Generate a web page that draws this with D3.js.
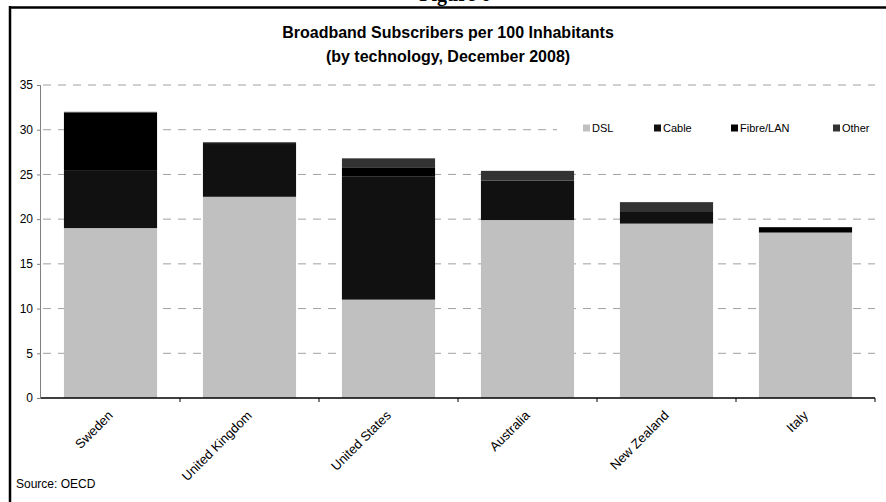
<!DOCTYPE html>
<html><head><meta charset="utf-8">
<script src="https://cdn.jsdelivr.net/npm/d3@7"></script>
<style>body{margin:0;background:#fff}svg{display:block;font-family:"Liberation Sans",Arial,sans-serif}</style>
</head><body><svg id="c" width="886" height="502"></svg>
<script>
const countries = ["Sweden","United Kingdom","United States","Australia","New Zealand","Italy"];
const seriesNames = ["DSL","Cable","Fibre/LAN","Other"];
const dsl   = [19.0, 22.5, 11.0, 19.9, 19.5, 18.5];
const cable = [6.4, 5.9, 13.8, 4.4, 1.3, 0.0];
const fibre = [6.5, 0.1, 1.0, 0.0, 0.0, 0.6];
const other = [0.1, 0.1, 1.0, 1.1, 1.1, 0.0];
const yTicks = [0,5,10,15,20,25,30,35];
const colors = ["#c0c0c0","#111111","#000000","#333333"];

const svg = d3.select("#c");
const L = 41, R = 875, T = 85, B = 398;
const x = d3.scaleBand().domain(countries).range([L,R]).paddingInner(0.33).paddingOuter(0.165);
const y = d3.scaleLinear().domain([0,35]).range([B,T]);

// frame
svg.append("line").attr("x1",9).attr("x2",886).attr("y1",7.5).attr("y2",7.5).attr("stroke","#000").attr("stroke-width",2.5);
svg.append("line").attr("x1",10).attr("x2",10).attr("y1",6).attr("y2",502).attr("stroke","#000").attr("stroke-width",2.5);
svg.append("text").attr("x",455).attr("y",1).attr("text-anchor","middle").attr("font-family","Liberation Serif").attr("font-weight","bold").attr("font-size",20).text("Figure 6");

// title
svg.append("text").attr("x",448).attr("y",38).attr("text-anchor","middle").attr("font-weight","bold").attr("font-size",16).text("Broadband Subscribers per 100 Inhabitants");
svg.append("text").attr("x",448).attr("y",62).attr("text-anchor","middle").attr("font-weight","bold").attr("font-size",16).text("(by technology, December 2008)");

// gridlines
svg.append("g").selectAll("line").data(yTicks.filter(d=>d>0)).join("line")
  .attr("x1",L).attr("x2",R).attr("y1",d=>y(d)).attr("y2",d=>y(d))
  .attr("stroke","#a0a0a0").attr("stroke-width",1).attr("stroke-dasharray","8,7").attr("stroke-dashoffset",-2);

// stacked bars
const rows = countries.map((c,i)=>({country:c,DSL:dsl[i],Cable:cable[i],"Fibre/LAN":fibre[i],Other:other[i]}));
const stack = d3.stack().keys(seriesNames)(rows);
svg.append("g").selectAll("g").data(stack).join("g").attr("fill",(d,i)=>colors[i])
  .selectAll("rect").data(d=>d).join("rect")
  .attr("x",d=>x(d.data.country)).attr("width",x.bandwidth())
  .attr("y",d=>y(d[1])).attr("height",d=>y(d[0])-y(d[1]));

// y axis
const ya = svg.append("g").attr("transform",`translate(${L},0)`)
  .call(d3.axisLeft(y).tickValues(yTicks).tickSize(4).tickPadding(4));
ya.select(".domain").attr("stroke","#808080").attr("d",`M-0.5,${T}V${B}`);
ya.selectAll(".tick line").attr("stroke","#808080");
ya.selectAll("text").attr("font-size",12).attr("font-family","Liberation Sans").attr("fill","#000");

// x axis
const xa = svg.append("g").attr("transform",`translate(0,${B})`);
xa.append("line").attr("x1",L).attr("x2",R).attr("stroke","#000").attr("stroke-width",1.5);
const bounds = countries.map(c=>x(c)-x.step()*x.paddingInner()/2).slice(1).concat([R]);
xa.selectAll(".tk").data(bounds).join("line").attr("class","tk")
  .attr("x1",d=>d).attr("x2",d=>d).attr("y1",0).attr("y2",4).attr("stroke","#000");
xa.selectAll(".lbl").data(countries).join("text").attr("class","lbl")
  .attr("transform",d=>`translate(${x(d)+x.bandwidth()/2},15) rotate(-45)`)
  .attr("text-anchor","end").attr("font-size",13).attr("dy","0.35em").text(d=>d);

// legend
const lg = svg.append("g");
lg.append("rect").attr("x",557).attr("y",118).attr("width",318).attr("height",22).attr("fill","#fff");
const lx = [583,654,731,833];
seriesNames.forEach((s,i)=>{
  lg.append("rect").attr("x",lx[i]).attr("y",124.5).attr("width",7).attr("height",7).attr("fill",colors[i]);
  lg.append("text").attr("x",lx[i]+9).attr("y",132).attr("font-size",11).text(s);
});

// source
svg.append("text").attr("x",16).attr("y",488).attr("font-size",12).text("Source: OECD");
</script></body></html>
